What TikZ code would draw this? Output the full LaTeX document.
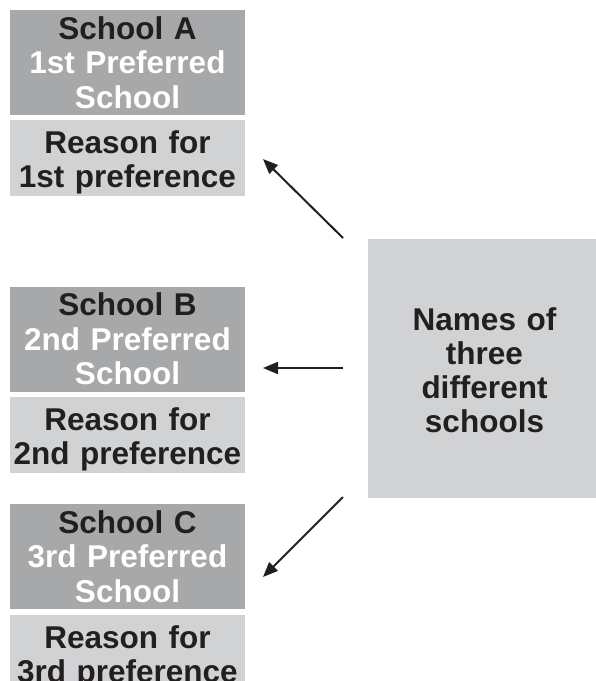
\documentclass[tikz,border=0pt]{standalone}
\usepackage{fontspec}
\setmainfont{Liberation Sans}
\usetikzlibrary{arrows.meta}
\usetikzlibrary{positioning}
\definecolor{darkbox}{RGB}{167,168,170}
\definecolor{lightbox}{RGB}{209,210,212}
\definecolor{ink}{RGB}{35,31,32}
\tikzset{
  namebox/.style={fill=darkbox,minimum width=235pt,minimum height=105pt,inner sep=0pt,
    text width=235pt,align=center,text=white,font=\fontsize{31.5}{34.5}\selectfont\bfseries},
  reasonbox/.style={fill=lightbox,minimum width=235pt,minimum height=76pt,inner sep=0pt,
    text width=235pt,text height=31pt,align=center,text=ink,font=\fontsize{31.5}{34}\selectfont\bfseries},
  listbox/.style={fill=lightbox,minimum width=228pt,minimum height=259pt,inner sep=0pt,
    text width=228pt,text height=27pt,align=center,text=ink,font=\fontsize{31.5}{34}\selectfont\bfseries},
  arr/.style={->,draw=ink,line width=2pt}
}
\begin{document}
\begin{tikzpicture}[line cap=butt,line join=miter,>={Triangle[length=15pt,width=12pt]},x=1pt,y=-1pt]
\useasboundingbox (0,0) rectangle (596,681);
\clip (0,0) rectangle (596,681);
\node[namebox] (schoolA) at (127.5,62.5) {\textcolor{ink}{School A}\\1st Preferred\\School};
\node[reasonbox,below=5pt of schoolA] (reasonA) {Reason for\\1st preference};
\node[namebox] (schoolB) at (127.5,339) {\textcolor{ink}{School B}\\2nd Preferred\\School};
\node[reasonbox,below=5pt of schoolB] (reasonB) {Reason for\\2nd preference};
\node[namebox] (schoolC) at (127.5,556.5) {\textcolor{ink}{School C}\\3rd Preferred\\School};
\node[reasonbox,below=6pt of schoolC] (reasonC) {Reason for\\3rd preference};
\node[listbox] (names) at (482,368.5) {\hspace*{5pt}Names of\\\hspace*{5pt}three\\\hspace*{5pt}different\\\hspace*{5pt}schools};
% arrows
\coordinate (fromA) at (343,238);
\coordinate (toA) at (263,159);
\coordinate (fromB) at (343,368);
\coordinate (toB) at (263,368);
\coordinate (fromC) at (343,497);
\coordinate (toC) at (263,577);
\draw[arr] (fromA) -- (toA);
\draw[arr] (fromB) -- (toB);
\draw[arr] (fromC) -- (toC);
\end{tikzpicture}
\end{document}
